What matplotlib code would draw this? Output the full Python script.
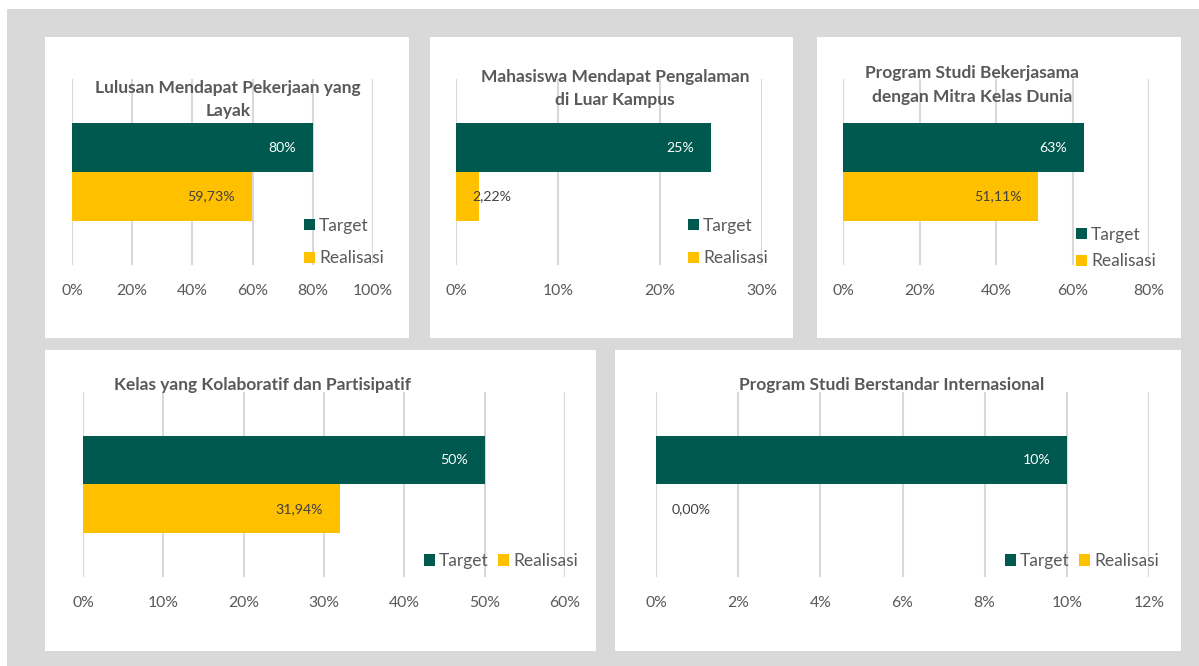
import matplotlib
matplotlib.use("Agg")
import matplotlib.pyplot as plt
from matplotlib.patches import Rectangle
from matplotlib.ticker import FuncFormatter, MultipleLocator

plt.rcParams['font.family'] = ['Lato', 'DejaVu Sans']

# ---- data ----
titles = [
    "Lulusan Mendapat Pekerjaan yang\nLayak",
    "Mahasiswa Mendapat Pengalaman\ndi Luar Kampus",
    "Program Studi Bekerjasama\ndengan Mitra Kelas Dunia",
    "Kelas yang Kolaboratif dan Partisipatif",
    "Program Studi Berstandar Internasional",
]
series = ["Target", "Realisasi"]
target = [0.80, 0.25, 0.63, 0.50, 0.10]
realisasi = [0.5973, 0.0222, 0.5111, 0.3194, 0.0]
target_labels = ["80%", "25%", "63%", "50%", "10%"]
realisasi_labels = ["59,73%", "2,22%", "51,11%", "31,94%", "0,00%"]
xmax = [1.0, 0.30, 0.80, 0.60, 0.12]
xstep = [0.2, 0.1, 0.2, 0.1, 0.02]

# ---- style ----
GREEN = "#00594F"
YELLOW = "#FFC000"
BG = "#D9D9D9"
GRID = "#D9D9D9"
TXT = "#595959"

W, H = 1199, 666
fig = plt.figure(figsize=(W / 100, H / 100), dpi=100, facecolor="white")

def fr(x0, y0, x1, y1):
    return [x0 / W, 1 - y1 / H, (x1 - x0) / W, (y1 - y0) / H]

# gray background
fig.patches.append(Rectangle((7 / W, 0), 1, 1 - 9 / H, transform=fig.transFigure,
                             facecolor=BG, edgecolor="none", zorder=-10))

panels = [(45, 37, 409, 338), (430, 37, 793, 338), (817, 37, 1181, 338),
          (45, 350, 596, 651), (615, 350, 1181, 651)]
for (x0, y0, x1, y1) in panels:
    fig.patches.append(Rectangle((x0 / W, 1 - y1 / H), (x1 - x0) / W, (y1 - y0) / H,
                                 transform=fig.transFigure, facecolor="white",
                                 edgecolor="none", zorder=-5))

axes_px = [(72, 79, 373, 265), (456, 79, 762, 265), (843, 79, 1149, 265),
           (83, 392, 565, 577), (656, 392, 1149, 577)]
title_pos = [(228, 99.5), (615, 88.5), (972, 85), (262, 385), (892, 385)]
# legend: (left x, center y, ncol, labelspacing)
legend_pos = [(304, 242, 1, 0.97), (688, 242, 1, 0.97), (1076, 248, 1, 0.62),
              (424, 561, 2, 0), (1005, 561, 2, 0)]

h = 0.263
for i in range(5):
    ax = fig.add_axes(fr(*axes_px[i]))
    ax.set_facecolor("none")
    b1 = ax.barh(h / 2, target[i], height=h, color=GREEN, zorder=2, label=series[0])
    b2 = ax.barh(-h / 2, realisasi[i], height=h, color=YELLOW, zorder=2, label=series[1])
    ax.set_xlim(0, xmax[i])
    ax.set_ylim(-0.5, 0.5)
    ax.xaxis.set_major_locator(MultipleLocator(xstep[i]))
    ax.xaxis.set_major_formatter(FuncFormatter(lambda v, p: f"{v*100:.0f}%"))
    ax.grid(axis="x", color=GRID, linewidth=1.5, zorder=0)
    ax.set_yticks([])
    for s in ax.spines.values():
        s.set_visible(False)
    ax.tick_params(axis="x", length=0, pad=13.5, labelsize=11.3, labelcolor=TXT)

    # data labels
    ax.annotate(target_labels[i], (target[i], h / 2), xytext=(-12, 0),
                textcoords="offset points", ha="right", va="center",
                color="white", fontsize=10.2, zorder=3)
    frac = realisasi[i] / xmax[i]
    if frac > 0.2:
        ax.annotate(realisasi_labels[i], (realisasi[i], -h / 2), xytext=(-12, 0),
                    textcoords="offset points", ha="right", va="center",
                    color="#404040", fontsize=10.2, zorder=3)
    else:
        ax.annotate(realisasi_labels[i], (0, -h / 2), xytext=(11.5, 0),
                    textcoords="offset points", ha="left", va="center",
                    color="#404040", fontsize=10.2, zorder=3)

    tx, ty = title_pos[i]
    fig.text(tx / W, 1 - ty / H, titles[i], ha="center", va="center",
             fontsize=12.5, fontweight="bold", color=TXT, linespacing=1.54, zorder=5)

    lx, ly, nc, ls = legend_pos[i]
    leg = ax.legend(handles=[b1, b2], labels=series, loc="center left",
                    bbox_to_anchor=(lx / W, 1 - ly / H), bbox_transform=fig.transFigure,
                    frameon=False, ncol=nc, handlelength=0.63, handleheight=0.63,
                    handletextpad=0.23, labelspacing=ls, columnspacing=0.57,
                    borderpad=0, borderaxespad=0, fontsize=12.5)
    for t in leg.get_texts():
        t.set_color(TXT)

fig.savefig("out.png", dpi=100, facecolor="white")
